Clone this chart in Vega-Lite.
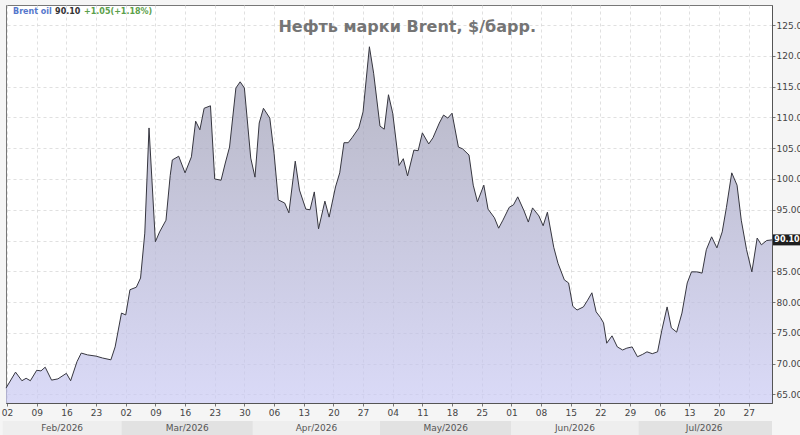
{
  "$schema": "https://vega.github.io/schema/vega-lite/v6.json",
  "description": "Brent crude oil price, USD per barrel, Feb-Jul 2026",
  "width": 766,
  "height": 398,
  "autosize": "none",
  "padding": {"left": 6, "top": 5, "right": 28, "bottom": 32},
  "background": "#f5f5f5",
  "config": {
    "view": {"fill": "white", "stroke": "#777"},
    "axis": {
      "zindex": 1,
      "labelFont": "DejaVu Sans",
      "labelFontSize": 9,
      "labelColor": "#444",
      "labelOverlap": false,
      "domainColor": "#555",
      "tickColor": "#777",
      "tickSize": 3,
      "gridColor": "#d8d8d8",
      "gridDash": [3, 3],
      "gridOpacity": 0.8
    }
  },
  "datasets": {
    "brent": [
      {"t": "2026-02-01T18:00Z", "v": 66.0},
      {"t": "2026-02-04", "v": 68.6},
      {"t": "2026-02-05T12:00Z", "v": 67.2},
      {"t": "2026-02-06T12:00Z", "v": 67.6},
      {"t": "2026-02-07T12:00Z", "v": 67.2},
      {"t": "2026-02-09", "v": 68.9},
      {"t": "2026-02-10", "v": 68.8},
      {"t": "2026-02-11", "v": 69.4},
      {"t": "2026-02-12T12:00Z", "v": 67.3},
      {"t": "2026-02-14", "v": 67.5},
      {"t": "2026-02-16", "v": 68.4},
      {"t": "2026-02-17", "v": 67.2},
      {"t": "2026-02-18T12:00Z", "v": 70.3},
      {"t": "2026-02-19T12:00Z", "v": 71.7},
      {"t": "2026-02-21", "v": 71.4},
      {"t": "2026-02-23", "v": 71.2},
      {"t": "2026-02-24T12:00Z", "v": 70.9},
      {"t": "2026-02-26T12:00Z", "v": 70.6},
      {"t": "2026-02-27T12:00Z", "v": 72.7},
      {"t": "2026-03-01", "v": 78.2},
      {"t": "2026-03-02", "v": 77.9},
      {"t": "2026-03-03", "v": 82.0},
      {"t": "2026-03-04T12:00Z", "v": 82.4},
      {"t": "2026-03-05T12:00Z", "v": 83.9},
      {"t": "2026-03-06T12:00Z", "v": 91.2},
      {"t": "2026-03-07T12:00Z", "v": 108.3},
      {"t": "2026-03-09", "v": 89.8},
      {"t": "2026-03-10", "v": 91.4},
      {"t": "2026-03-11T12:00Z", "v": 93.3},
      {"t": "2026-03-12T12:00Z", "v": 100.6},
      {"t": "2026-03-13", "v": 103.1},
      {"t": "2026-03-14T12:00Z", "v": 103.7},
      {"t": "2026-03-16", "v": 101.0},
      {"t": "2026-03-17T12:00Z", "v": 103.6},
      {"t": "2026-03-18T12:00Z", "v": 109.4},
      {"t": "2026-03-19T12:00Z", "v": 108.0},
      {"t": "2026-03-20T12:00Z", "v": 111.5},
      {"t": "2026-03-22", "v": 111.9},
      {"t": "2026-03-23", "v": 100.0},
      {"t": "2026-03-24T12:00Z", "v": 99.8},
      {"t": "2026-03-25T12:00Z", "v": 102.6},
      {"t": "2026-03-26T12:00Z", "v": 105.2},
      {"t": "2026-03-28", "v": 114.8},
      {"t": "2026-03-29", "v": 115.8},
      {"t": "2026-03-30", "v": 114.8},
      {"t": "2026-03-31T12:00Z", "v": 103.4},
      {"t": "2026-04-01T12:00Z", "v": 100.3},
      {"t": "2026-04-02T12:00Z", "v": 109.1},
      {"t": "2026-04-03T12:00Z", "v": 111.5},
      {"t": "2026-04-05", "v": 109.9},
      {"t": "2026-04-06", "v": 104.2},
      {"t": "2026-04-07", "v": 96.6},
      {"t": "2026-04-08T12:00Z", "v": 96.1},
      {"t": "2026-04-09T12:00Z", "v": 94.5},
      {"t": "2026-04-11", "v": 102.9},
      {"t": "2026-04-12", "v": 98.2},
      {"t": "2026-04-13T12:00Z", "v": 95.1},
      {"t": "2026-04-14T12:00Z", "v": 95.0},
      {"t": "2026-04-15T12:00Z", "v": 97.9},
      {"t": "2026-04-16T12:00Z", "v": 91.9},
      {"t": "2026-04-18", "v": 96.4},
      {"t": "2026-04-19", "v": 93.8},
      {"t": "2026-04-20T12:00Z", "v": 98.7},
      {"t": "2026-04-21T12:00Z", "v": 101.0},
      {"t": "2026-04-22T12:00Z", "v": 105.9},
      {"t": "2026-04-23T12:00Z", "v": 105.9},
      {"t": "2026-04-24T12:00Z", "v": 106.8},
      {"t": "2026-04-26", "v": 108.3},
      {"t": "2026-04-27", "v": 110.9},
      {"t": "2026-04-28T12:00Z", "v": 121.5},
      {"t": "2026-04-29T12:00Z", "v": 117.2},
      {"t": "2026-05-01", "v": 108.6},
      {"t": "2026-05-02", "v": 108.1},
      {"t": "2026-05-03", "v": 113.7},
      {"t": "2026-05-04", "v": 110.7},
      {"t": "2026-05-05T12:00Z", "v": 102.2},
      {"t": "2026-05-06T12:00Z", "v": 103.3},
      {"t": "2026-05-07T12:00Z", "v": 100.5},
      {"t": "2026-05-09", "v": 104.7},
      {"t": "2026-05-10", "v": 104.6},
      {"t": "2026-05-11", "v": 107.5},
      {"t": "2026-05-12T12:00Z", "v": 105.7},
      {"t": "2026-05-13T12:00Z", "v": 106.7},
      {"t": "2026-05-15", "v": 109.1},
      {"t": "2026-05-16", "v": 110.4},
      {"t": "2026-05-17", "v": 109.9},
      {"t": "2026-05-18", "v": 110.7},
      {"t": "2026-05-19T12:00Z", "v": 105.2},
      {"t": "2026-05-20T12:00Z", "v": 104.9},
      {"t": "2026-05-22", "v": 103.9},
      {"t": "2026-05-23", "v": 99.0},
      {"t": "2026-05-24", "v": 96.3},
      {"t": "2026-05-25T12:00Z", "v": 99.0},
      {"t": "2026-05-26T12:00Z", "v": 95.1},
      {"t": "2026-05-28", "v": 93.7},
      {"t": "2026-05-29", "v": 92.0},
      {"t": "2026-05-30", "v": 93.3},
      {"t": "2026-05-31T12:00Z", "v": 95.4},
      {"t": "2026-06-01T12:00Z", "v": 95.8},
      {"t": "2026-06-02T12:00Z", "v": 97.1},
      {"t": "2026-06-04", "v": 94.8},
      {"t": "2026-06-05", "v": 93.0},
      {"t": "2026-06-06", "v": 95.3},
      {"t": "2026-06-07T12:00Z", "v": 94.0},
      {"t": "2026-06-08T12:00Z", "v": 92.4},
      {"t": "2026-06-09T12:00Z", "v": 94.6},
      {"t": "2026-06-11", "v": 88.9},
      {"t": "2026-06-12", "v": 86.3},
      {"t": "2026-06-13T12:00Z", "v": 83.6},
      {"t": "2026-06-14T12:00Z", "v": 83.1},
      {"t": "2026-06-15T12:00Z", "v": 79.3},
      {"t": "2026-06-16T12:00Z", "v": 78.7},
      {"t": "2026-06-18", "v": 79.2},
      {"t": "2026-06-19", "v": 80.3},
      {"t": "2026-06-20", "v": 81.5},
      {"t": "2026-06-21", "v": 78.4},
      {"t": "2026-06-22", "v": 77.5},
      {"t": "2026-06-22T18:00Z", "v": 76.6},
      {"t": "2026-06-23T12:00Z", "v": 73.3},
      {"t": "2026-06-24T18:00Z", "v": 74.5},
      {"t": "2026-06-26", "v": 72.7},
      {"t": "2026-06-27T06:00Z", "v": 72.2},
      {"t": "2026-06-28T06:00Z", "v": 72.5},
      {"t": "2026-06-29T12:00Z", "v": 72.7},
      {"t": "2026-06-30T18:00Z", "v": 71.1},
      {"t": "2026-07-02", "v": 71.5},
      {"t": "2026-07-03", "v": 71.9},
      {"t": "2026-07-04T06:00Z", "v": 71.6},
      {"t": "2026-07-05T12:00Z", "v": 71.9},
      {"t": "2026-07-06T12:00Z", "v": 75.4},
      {"t": "2026-07-07T18:00Z", "v": 79.2},
      {"t": "2026-07-08T18:00Z", "v": 75.8},
      {"t": "2026-07-10", "v": 75.1},
      {"t": "2026-07-11T06:00Z", "v": 78.2},
      {"t": "2026-07-12T12:00Z", "v": 83.1},
      {"t": "2026-07-13T12:00Z", "v": 84.9},
      {"t": "2026-07-14T18:00Z", "v": 84.9},
      {"t": "2026-07-16", "v": 84.7},
      {"t": "2026-07-17", "v": 88.5},
      {"t": "2026-07-18T06:00Z", "v": 90.6},
      {"t": "2026-07-19T12:00Z", "v": 88.8},
      {"t": "2026-07-20T18:00Z", "v": 91.4},
      {"t": "2026-07-21T18:00Z", "v": 95.4},
      {"t": "2026-07-23", "v": 101.0},
      {"t": "2026-07-24T06:00Z", "v": 99.0},
      {"t": "2026-07-25T06:00Z", "v": 93.3},
      {"t": "2026-07-26T12:00Z", "v": 88.5},
      {"t": "2026-07-27T18:00Z", "v": 84.9},
      {"t": "2026-07-29", "v": 90.4},
      {"t": "2026-07-30", "v": 89.3},
      {"t": "2026-07-31T06:00Z", "v": 90.0},
      {"t": "2026-08-01T12:00Z", "v": 90.1}
    ],
    "months": [
      {"start": "2026-02-01", "end": "2026-03-01", "mid": "2026-02-15", "label": "Feb/2026"},
      {"start": "2026-03-01", "end": "2026-04-01", "mid": "2026-03-16T12:00Z", "label": "Mar/2026"},
      {"start": "2026-04-01", "end": "2026-05-01", "mid": "2026-04-16", "label": "Apr/2026"},
      {"start": "2026-05-01", "end": "2026-06-01", "mid": "2026-05-16T12:00Z", "label": "May/2026"},
      {"start": "2026-06-01", "end": "2026-07-01", "mid": "2026-06-16", "label": "Jun/2026"},
      {"start": "2026-07-01", "end": "2026-08-01T12:00Z", "mid": "2026-07-16T12:00Z", "label": "Jul/2026"}
    ],
    "one": [{}]
  },
  "layer": [
    {
      "data": {"name": "brent"},
      "mark": {
        "type": "area",
        "interpolate": "linear",
        "color": {
          "gradient": "linear",
          "x1": 0, "y1": 0, "x2": 0, "y2": 1,
          "stops": [
            {"offset": 0, "color": "#9696aa"},
            {"offset": 1, "color": "#cacaf4"}
          ]
        },
        "line": {"color": "#36363f", "strokeWidth": 1}
      },
      "encoding": {
        "x": {
          "field": "t",
          "type": "temporal",
          "title": null,
          "scale": {
            "type": "utc",
            "domain": [
              {"year": 2026, "month": 2, "date": 1, "hours": 18, "utc": true},
              {"year": 2026, "month": 8, "date": 1, "hours": 12, "utc": true}
            ]
          },
          "axis": {
            "format": "%d",
            "formatType": "utc",
            "labelExpr": "utcFormat(datum.value, '%d')",
            "labelOverlap": false,
            "tickCount": 100,
            "grid": true,
            "labelPadding": 2,
            "labelFlush": false,
            "values": [
              {"year": 2026, "month": 2, "date": 2, "utc": true},
              {"year": 2026, "month": 2, "date": 9, "utc": true},
              {"year": 2026, "month": 2, "date": 16, "utc": true},
              {"year": 2026, "month": 2, "date": 23, "utc": true},
              {"year": 2026, "month": 3, "date": 2, "utc": true},
              {"year": 2026, "month": 3, "date": 9, "utc": true},
              {"year": 2026, "month": 3, "date": 16, "utc": true},
              {"year": 2026, "month": 3, "date": 23, "utc": true},
              {"year": 2026, "month": 3, "date": 30, "utc": true},
              {"year": 2026, "month": 4, "date": 6, "utc": true},
              {"year": 2026, "month": 4, "date": 13, "utc": true},
              {"year": 2026, "month": 4, "date": 20, "utc": true},
              {"year": 2026, "month": 4, "date": 27, "utc": true},
              {"year": 2026, "month": 5, "date": 4, "utc": true},
              {"year": 2026, "month": 5, "date": 11, "utc": true},
              {"year": 2026, "month": 5, "date": 18, "utc": true},
              {"year": 2026, "month": 5, "date": 25, "utc": true},
              {"year": 2026, "month": 6, "date": 1, "utc": true},
              {"year": 2026, "month": 6, "date": 8, "utc": true},
              {"year": 2026, "month": 6, "date": 15, "utc": true},
              {"year": 2026, "month": 6, "date": 22, "utc": true},
              {"year": 2026, "month": 6, "date": 29, "utc": true},
              {"year": 2026, "month": 7, "date": 6, "utc": true},
              {"year": 2026, "month": 7, "date": 13, "utc": true},
              {"year": 2026, "month": 7, "date": 20, "utc": true},
              {"year": 2026, "month": 7, "date": 27, "utc": true}
            ]
          }
        },
        "y": {
          "field": "v",
          "type": "quantitative",
          "title": null,
          "scale": {"domain": [63.58, 128.29], "nice": false, "zero": false},
          "axis": {
            "orient": "right",
            "grid": true,
            "labelOverlap": false,
            "tickCount": 100,
            "labelPadding": 1,
            "labelFlush": false,
            "values": [65, 70, 75, 80, 85, 90, 95, 100, 105, 110, 115, 120, 125],
            "labelExpr": "datum.value == 90 ? '' : format(datum.value, '.2f')"
          }
        },
        "y2": {"datum": 63.58}
      }
    },
    {
      "data": {"name": "months"},
      "mark": {"type": "rect"},
      "encoding": {
        "x": {"field": "start", "type": "temporal", "scale": {"type": "utc"}, "title": null},
        "x2": {"field": "end"},
        "y": {"datum": 60.66},
        "y2": {"datum": 58.1},
        "color": {
          "field": "label",
          "type": "nominal",
          "scale": {
            "domain": ["Feb/2026", "Mar/2026", "Apr/2026", "May/2026", "Jun/2026", "Jul/2026"],
            "range": ["#eeeeee", "#e2e2e2", "#eeeeee", "#e2e2e2", "#eeeeee", "#e2e2e2"]
          },
          "legend": null
        }
      }
    },
    {
      "data": {"name": "months"},
      "mark": {"type": "text", "font": "DejaVu Sans", "fontSize": 9, "color": "#555", "baseline": "middle"},
      "encoding": {
        "x": {"field": "mid", "type": "temporal", "scale": {"type": "utc"}, "title": null},
        "y": {"datum": 59.45},
        "text": {"field": "label"}
      }
    },
    {
      "data": {"name": "one"},
      "mark": {"type": "text", "align": "left", "baseline": "middle", "dx": 6, "font": "DejaVu Sans", "fontSize": 8, "fontWeight": "bold", "color": "#5577cc"},
      "encoding": {
        "x": {"datum": {"year": 2026, "month": 2, "date": 2, "utc": true}, "type": "temporal", "scale": {"type": "utc"}},
        "y": {"datum": 127.16},
        "text": {"value": "Brent oil"}
      }
    },
    {
      "data": {"name": "one"},
      "mark": {"type": "text", "align": "left", "baseline": "middle", "dx": 48, "font": "DejaVu Sans", "fontSize": 8, "fontWeight": "bold", "color": "#333"},
      "encoding": {
        "x": {"datum": {"year": 2026, "month": 2, "date": 2, "utc": true}, "type": "temporal", "scale": {"type": "utc"}},
        "y": {"datum": 127.16},
        "text": {"value": "90.10"}
      }
    },
    {
      "data": {"name": "one"},
      "mark": {"type": "text", "align": "left", "baseline": "middle", "dx": 77, "font": "DejaVu Sans", "fontSize": 8, "fontWeight": "bold", "color": "#5ba04a"},
      "encoding": {
        "x": {"datum": {"year": 2026, "month": 2, "date": 2, "utc": true}, "type": "temporal", "scale": {"type": "utc"}},
        "y": {"datum": 127.16},
        "text": {"value": "+1.05(+1.18%)"}
      }
    },
    {
      "data": {"name": "one"},
      "mark": {"type": "text", "align": "center", "baseline": "middle", "font": "DejaVu Sans", "fontSize": 16, "fontWeight": "bold", "color": "#757575"},
      "encoding": {
        "x": {"datum": {"year": 2026, "month": 5, "date": 7, "hours": 10, "utc": true}, "type": "temporal", "scale": {"type": "utc"}},
        "y": {"datum": 124.72},
        "text": {"value": "Нефть марки Brent, $/барр."}
      }
    },
    {
      "data": {"name": "one"},
      "mark": {"type": "point", "shape": "M0.1,-0.55H2.9V0.55H0.1Z", "filled": true, "size": 400, "color": "#1e1e1e", "opacity": 1},
      "encoding": {
        "x": {"datum": {"year": 2026, "month": 8, "date": 1, "hours": 12, "utc": true}, "type": "temporal", "scale": {"type": "utc"}},
        "y": {"datum": 90.1}
      }
    },
    {
      "data": {"name": "one"},
      "mark": {"type": "text", "align": "center", "baseline": "middle", "dx": 15, "font": "DejaVu Sans", "fontSize": 8, "fontWeight": "bold", "color": "white"},
      "encoding": {
        "x": {"datum": {"year": 2026, "month": 8, "date": 1, "hours": 12, "utc": true}, "type": "temporal", "scale": {"type": "utc"}},
        "y": {"datum": 90.1},
        "text": {"value": "90.10"}
      }
    }
  ]
}
